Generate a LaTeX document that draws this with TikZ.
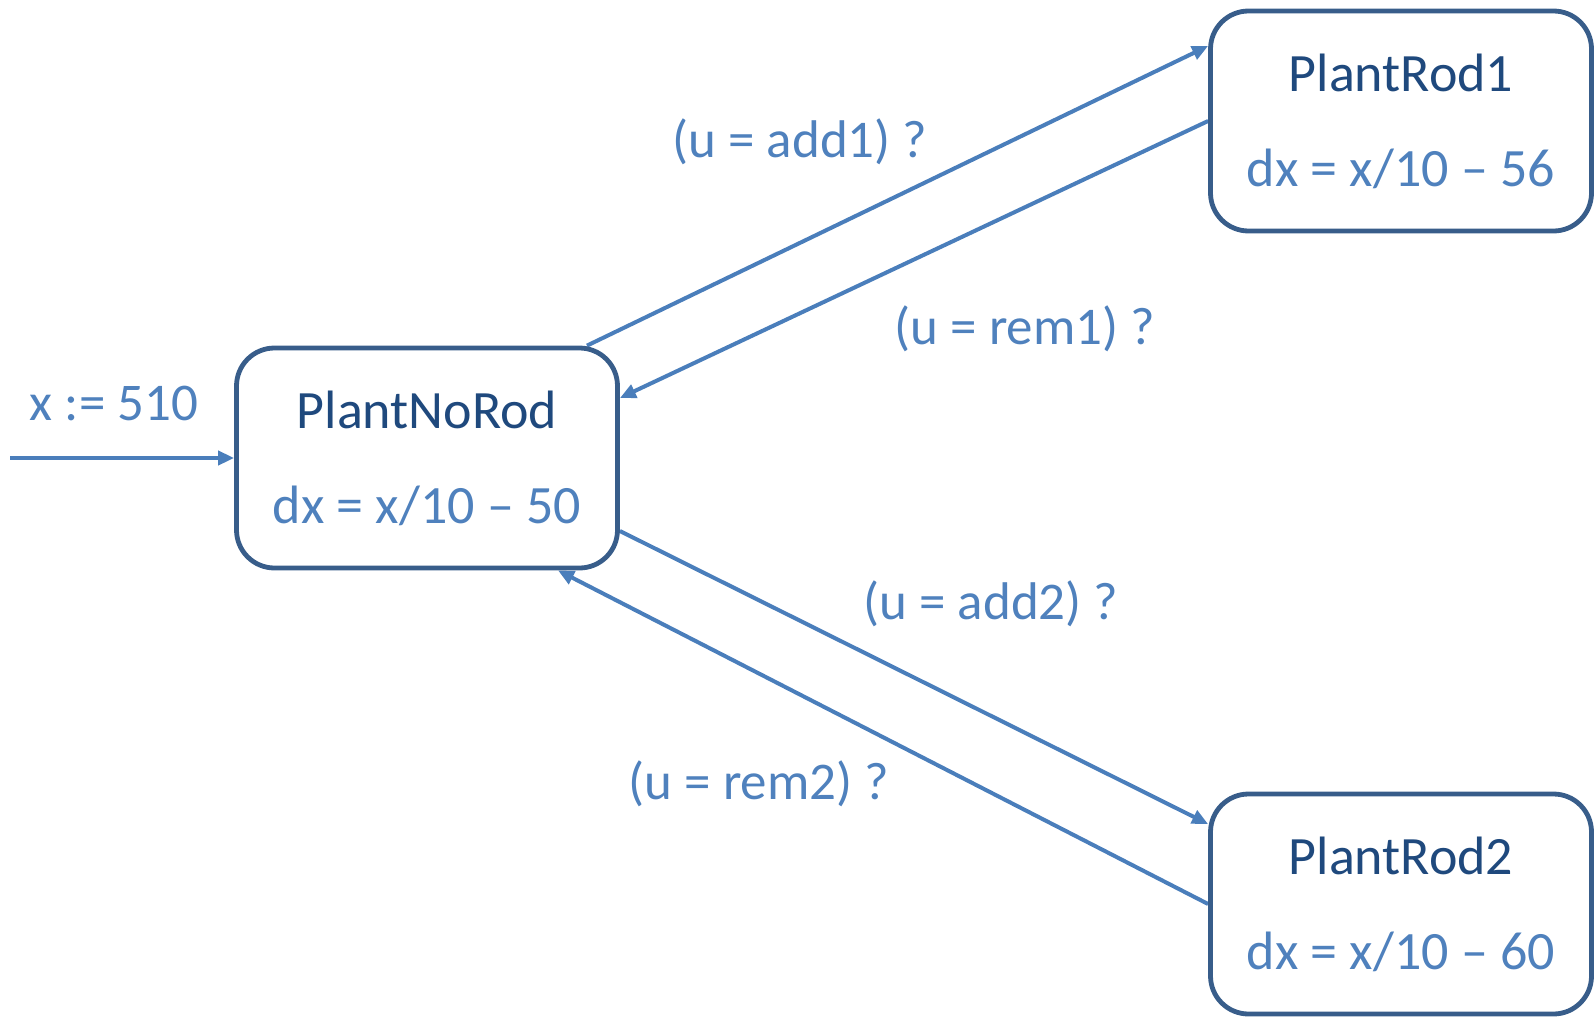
\documentclass[tikz,border=0pt]{standalone}
\usepackage{fontspec}
\setmainfont{Carlito}
\usetikzlibrary{arrows.meta}
\definecolor{boxline}{HTML}{385D8A}
\definecolor{titleblue}{HTML}{1F497D}
\definecolor{edgeblue}{HTML}{4A7EBB}
\definecolor{labelblue}{HTML}{4F81BD}
\pgfdeclarelayer{edgelayer}
\pgfdeclarelayer{nodelayer}
\pgfsetlayers{edgelayer,nodelayer,main}
\tikzstyle{state}=[rectangle, rounded corners=19pt, draw=boxline, line width=2.4pt, fill=white, minimum width=190.5pt, minimum height=110pt, inner sep=0pt, align=center, font=\fontsize{27}{47.5}\selectfont]
\tikzstyle{guard}=[text=labelblue, font=\fontsize{26.5}{32}\selectfont]
\tikzstyle{transition}=[draw=edgeblue, line width=2pt, -{Triangle[length=8pt,width=7pt]}]

\begin{document}
\begin{tikzpicture}[x=0.5pt, y=-0.5pt]
				\useasboundingbox (0, 0) rectangle (1595, 1017);
				\begin{pgfonlayer}{nodelayer}
					\node [style=state] (0) at (427, 458) {{\color{titleblue}PlantNoRod}\\{\color{labelblue}dx = x/10 – 50}};
					\node [style=state] (1) at (1401, 121) {{\color{titleblue}PlantRod1}\\{\color{labelblue}dx = x/10 – 56}};
					\node [style=state] (2) at (1401, 904) {{\color{titleblue}PlantRod2}\\{\color{labelblue}dx = x/10 – 60}};
					\coordinate (3) at (10, 458);
					\node [style=guard] (4) at (114, 404) {x := 510};
					\node [style=guard] (5) at (800, 142) {(u = add1) ?};
					\node [style=guard] (6) at (1025, 329) {(u = rem1) ?};
					\node [style=guard] (7) at (991, 604) {(u = add2) ?};
					\node [style=guard] (8) at (759, 784) {(u = rem2) ?};
				\end{pgfonlayer}
				\begin{pgfonlayer}{edgelayer}
					\draw [style=transition, line width=2.3pt] (3) to (0.west);
					\draw [style=transition] ([xshift=80pt]0.north) to ([yshift=37.5pt]1.west);
					\draw [style=transition] (1.west) to ([yshift=30pt]0.east);
					\draw [style=transition] ([yshift=-36.5pt]0.east) to ([yshift=40pt]2.west);
					\draw [style=transition] (2.west) to ([xshift=65.5pt]0.south);
				\end{pgfonlayer}
			\end{tikzpicture}
\end{document}
